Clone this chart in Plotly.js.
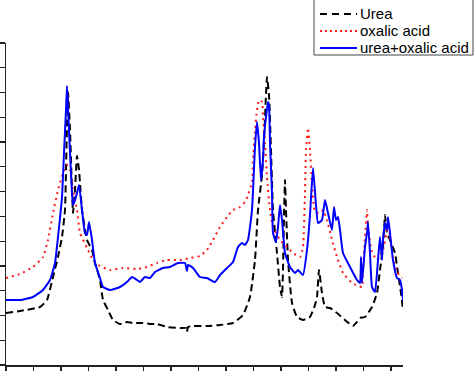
<!DOCTYPE html>
<html>
<head>
<meta charset="utf-8">
<script src="https://cdn.plot.ly/plotly-3.0.1.min.js"></script>
<style>html,body{margin:0;padding:0;background:#fff;}#chart{width:474px;height:371px;}</style>
</head>
<body>
<div id="chart"></div>
<script>
// Series names
const seriesNames = ["Urea", "oxalic acid", "urea+oxalic acid"];

// Urea (black dashed) — x: arbitrary units, y: intensity (a.u.)
const ureaX = [0,14,34,41,47,52,56,59,60,61,62,64,66,67,69,71,73,74,76,81,86,89,94,97,102,107,114,121,127,137,144,151,161,174,180,181,182,187,201,214,227,237,244,249,252,256,258,260,261,263,265,267,271,274,276,277,278,279,280,282,286,291,297,304,309,311,313,316,319,324,331,339,347,351,354,359,366,371,374,377,379,381,384,389,392,395,397];
const ureaY = [52,54,58,65,88,108,128,155,195,240,273,235,175,152,175,209,195,182,155,125,115,102,85,65,55,45,41,43,42,42,41,41,38,37,37,33,38,39,39,40,42,50,68,105,155,190,225,270,288,270,215,155,112,78,68,95,150,185,155,105,62,48,45,48,60,68,95,72,58,57,52,45,39,43,47,48,58,72,95,118,150,132,125,112,92,72,55];

// oxalic acid (red dotted)
const oxalicX = [0,14,27,37,42,47,52,57,61,64,67,71,74,81,87,94,104,117,131,141,151,161,174,184,194,201,207,214,221,227,234,239,242,246,247,249,251,253,256,257,259,261,264,267,274,281,287,294,297,299,300,302,304,306,309,314,317,321,326,331,337,346,356,357,359,361,362,366,371,377,381,382,384,387,391,396];
const oxalicY = [87,91,98,108,125,152,175,192,200,195,175,155,132,117,105,99,95,97,96,98,102,105,105,107,109,115,125,138,148,155,158,163,170,183,205,235,255,265,263,248,222,188,155,138,125,118,112,108,118,172,215,237,215,180,153,152,155,145,125,108,92,82,78,95,128,155,137,113,105,115,135,145,128,107,93,87];

// urea+oxalic acid (blue solid)
const mixX = [0,14,27,37,44,49,52,56,58,60,61,62,64,66,67,70,73,76,79,81,83,86,89,94,97,104,114,121,126,131,134,139,144,149,157,164,172,179,181,182,187,194,201,209,214,221,227,232,236,239,242,246,249,251,253,255,257,258,260,262,263,264,266,267,270,272,274,276,279,284,289,292,294,297,301,304,307,310,312,316,319,322,326,328,330,332,334,337,344,351,354,355,356,359,361,362,364,366,369,372,374,376,377,379,381,382,384,387,391,394,396,397];
const mixY = [65,65,68,75,85,102,128,168,212,255,279,257,212,172,160,168,180,155,132,130,143,125,102,87,78,75,78,83,88,85,83,88,87,93,97,98,102,102,94,100,97,88,87,83,90,97,103,118,122,120,125,155,218,243,222,185,205,228,248,263,260,222,172,132,123,138,160,145,112,98,92,95,93,90,115,150,197,160,142,145,165,152,135,158,145,148,135,112,98,85,82,108,82,118,132,143,112,78,73,105,128,105,125,142,135,148,132,105,87,85,75,65];

const traces = [
  {x: ureaX, y: ureaY, name: seriesNames[0], type: "scatter", mode: "lines",
   line: {color: "#000000", width: 2, dash: "7px,4px", shape: "spline", smoothing: 0.4}},
  {x: oxalicX, y: oxalicY, name: seriesNames[1], type: "scatter", mode: "lines",
   line: {color: "#ff1a1a", width: 2, dash: "2px,4px", shape: "spline", smoothing: 0.4}},
  {x: mixX, y: mixY, name: seriesNames[2], type: "scatter", mode: "lines",
   line: {color: "#0000ff", width: 2, shape: "spline", smoothing: 0.4}}
];

// manual legend (paper coords)
const legX0 = 0.7909, legX1 = 0.8841, legTextX = 0.8866;
const legY = [1.0901, 1.0373, 0.9845];
const legStyles = [
  {color: "#000000", width: 2, dash: "7px,5px"},
  {color: "#ff1a1a", width: 2, dash: "2px,3px"},
  {color: "#0000ff", width: 2, dash: "solid"}
];
const shapes = [{type: "rect", xref: "paper", yref: "paper", x0: 0.7758, x1: 1.1763, y0: 0.9627, y1: 1.1429,
  line: {color: "#444444", width: 1}, fillcolor: "#ffffff", layer: "above"}];
const annotations = [];
seriesNames.forEach((n, i) => {
  shapes.push({type: "line", xref: "paper", yref: "paper", x0: legX0, x1: legX1, y0: legY[i], y1: legY[i], line: legStyles[i], layer: "above"});
  annotations.push({xref: "paper", yref: "paper", x: legTextX, y: legY[i], xanchor: "left", yanchor: "middle",
    text: n, showarrow: false, font: {family: "Arial, 'Liberation Sans', sans-serif", size: 15, color: "#000"}});
});

const layout = {
  width: 474, height: 371,
  margin: {l: 6, r: 71, t: 43, b: 6, pad: 0},
  paper_bgcolor: "#ffffff", plot_bgcolor: "#ffffff",
  showlegend: false,
  xaxis: {range: [0, 397], showgrid: false, zeroline: false, showline: true, linecolor: "#222", linewidth: 1.5,
          ticks: "outside", ticklen: 5, tickwidth: 1.2, tickcolor: "#222", tick0: 0, dtick: 27.5, showticklabels: false},
  yaxis: {range: [0, 322], showgrid: false, zeroline: false, showline: true, linecolor: "#222", linewidth: 1.5,
          ticks: "outside", ticklen: 5, tickwidth: 1.2, tickcolor: "#222", tick0: 0, dtick: 24.77, showticklabels: false},
  shapes: shapes,
  annotations: annotations
};

Plotly.newPlot("chart", traces, layout, {displayModeBar: false, staticPlot: true});
</script>
</body>
</html>
